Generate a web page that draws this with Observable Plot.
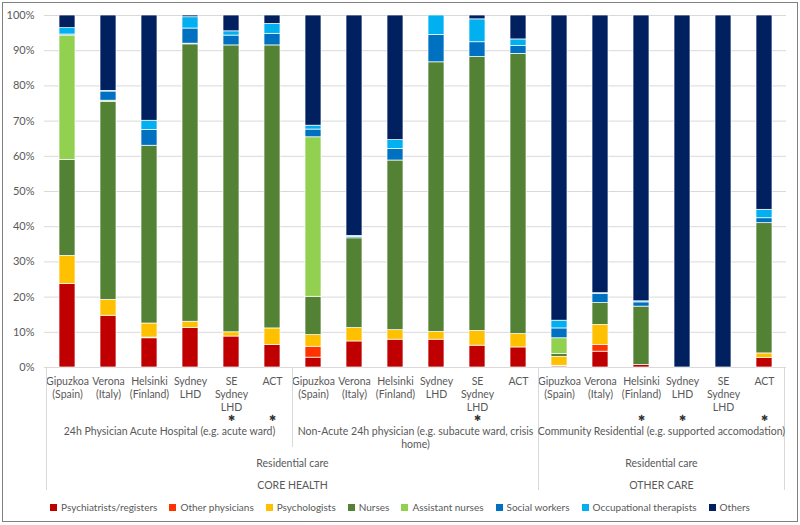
<!DOCTYPE html>
<html><head><meta charset="utf-8">
<script src="https://cdn.jsdelivr.net/npm/d3@7"></script>
<script src="https://cdn.jsdelivr.net/npm/@observablehq/plot@0.6"></script>
<style>
body{margin:0;background:#fff;font-family:Lato, sans-serif;}
#frame{position:absolute;left:2px;top:2px;width:794px;height:518px;border:1px solid #7f7f7f;pointer-events:none;}
#chart{position:absolute;left:0;top:0;}
#legend{position:absolute;left:0;top:500px;width:800px;display:flex;justify-content:center;gap:12px;font-size:10px;color:#595959;line-height:14px;}
#legend .it{display:flex;align-items:center;}
#legend .sw{width:7px;height:7px;margin-right:4px;}
</style></head>
<body>
<div id="chart"></div>
<div id="legend"></div>
<div id="frame"></div>
<script>
const barLabels = ["Gipuzkoa\n(Spain)","Verona\n(Italy)","Helsinki\n(Finland)","Sydney\nLHD","SE\nSydney\nLHD","ACT",
  "Gipuzkoa\n(Spain)","Verona\n(Italy)","Helsinki\n(Finland)","Sydney\nLHD","SE\nSydney\nLHD","ACT",
  "Gipuzkoa\n(Spain)","Verona\n(Italy)","Helsinki\n(Finland)","Sydney\nLHD","SE\nSydney\nLHD","ACT"];
const asteriskBars = [4, 5, 10, 14, 15, 17];
const groupLabels = ["24h Physician Acute Hospital (e.g. acute ward)", "Non-Acute 24h physician (e.g. subacute ward, crisis\nhome)", "Community Residential (e.g. supported accomodation)"];
const level2Labels = ["Residential care", "Residential care"];
const level3Labels = ["CORE HEALTH", "OTHER CARE"];
const roles = ["Psychiatrists/registers","Other physicians","Psychologists","Nurses","Assistant nurses","Social workers","Occupational therapists","Others"];
const colors = ["#C00000","#FF3300","#FFC000","#548235","#92D050","#0070C0","#00B0F0","#002060"];
const yTicks = [0,0.1,0.2,0.3,0.4,0.5,0.6,0.7,0.8,0.9,1];

const psychiatrists = [23.7,14.7,8.3,11.2,8.8,6.4, 2.8,7.4,7.9,7.9,6.2,5.7, 0.3,4.5,0.7,0,0,2.7];
const otherPhysicians = [0,0,0.2,0,0,0, 3.1,0,0,0,0,0, 0.2,1.9,0,0,0,0];
const psychologists = [8.0,4.5,4.0,1.8,1.2,4.7, 3.3,3.8,2.7,2.2,4.2,3.8, 2.5,5.7,0,0,0,1.3];
const nurses = [27.3,56.3,50.5,78.8,81.5,80.4, 10.9,25.5,48.2,76.6,77.8,79.6, 0.8,6.2,16.6,0,0,37.0];
const assistantNurses = [35.3,0.3,0,0.2,0,0, 45.3,0,0,0,0,0, 4.5,0,0,0,0,0];
const socialWorkers = [0.3,2.6,4.5,4.3,2.8,3.3, 2.2,0.4,3.3,7.8,4.2,2.2, 2.8,2.6,1.2,0,0,1.4];
const occupationalTherapists = [1.8,0.2,2.6,3.2,1.2,2.8, 1.1,0.3,2.5,5.5,6.5,1.9, 2.2,0.2,0.3,0,0,2.4];
const others = [3.6,21.4,29.9,0.5,4.5,2.4, 31.3,62.6,35.4,0,1.1,6.8, 86.7,78.9,81.2,100,100,55.2];

const series = [psychiatrists, otherPhysicians, psychologists, nurses, assistantNurses, socialWorkers, occupationalTherapists, others];
const data = [];
barLabels.forEach((_, i) => series.forEach((s, r) => { if (s[i] > 0) data.push({bar: i, role: roles[r], value: s[i]}); }));

const textColor = "#595959";
const fs = 10.5;
const plot = Plot.plot({
  width: 800, height: 495,
  marginTop: 15, marginBottom: 128, marginLeft: 44, marginRight: 14,
  style: {fontFamily: "Lato, sans-serif", fontSize: fs + "px", color: textColor, background: "transparent", overflow: "visible"},
  x: {domain: d3.range(barLabels.length), paddingInner: 0.61, paddingOuter: 0.305, axis: null, label: null},
  y: {domain: [0, 1], axis: null, label: null},
  color: {domain: roles, range: colors},
  marks: [
    Plot.gridY(yTicks, {stroke: "#d9d9d9", strokeOpacity: 1}),
    Plot.axisY(yTicks, {tickSize: 0, tickPadding: 10, tickFormat: d => Math.round(d * 100) + "%", fill: textColor, label: null, fontSize: 11}),
    Plot.barY(data, Plot.stackY({x: "bar", y: "value", fill: "role", offset: "normalize", stroke: "white", strokeWidth: 0.7})),
    Plot.axisX(d3.range(barLabels.length), {tickSize: 0, tickPadding: 8, tickFormat: i => barLabels[i], lineHeight: 13 / fs, fill: textColor, label: null}),
    Plot.text(asteriskBars, {x: d => d, frameAnchor: "bottom", dy: 53, text: () => "\u2731", fontSize: 8.5, fontFamily: "DejaVu Sans", fill: "#333"})
  ]
});
document.getElementById("chart").appendChild(plot);

// multi-level category axis, positioned with the plot's x scale
const xs = plot.scale("x");
const half = (xs.step - xs.bandwidth) / 2;
const b = i => i < barLabels.length ? xs.apply(i) - half : xs.apply(barLabels.length - 1) + xs.bandwidth + half;
const svg = d3.select(plot);
const yBase = 367;
const g = svg.append("g").attr("font-family", "Lato, sans-serif").attr("font-size", fs).attr("fill", textColor).attr("text-anchor", "middle");
[[0, 490], [6, 447], [12, 490], [18, 490]].forEach(([i, y2]) =>
  g.append("line").attr("x1", b(i)).attr("x2", b(i)).attr("y1", yBase).attr("y2", y2).attr("stroke", "#d9d9d9"));
groupLabels.forEach((t, k) => {
  const cx = (b(k * 6) + b(k * 6 + 6)) / 2;
  const tx = g.append("text").attr("x", cx).attr("y", 435);
  t.split("\n").forEach((line, j) => tx.append("tspan").attr("x", cx).attr("dy", j ? 13 : 0).text(line));
});
const spans = [[0, 12], [12, 18]];
spans.forEach(([a, z], k) => {
  const cx = (b(a) + b(z)) / 2;
  g.append("text").attr("x", cx).attr("y", 467).text(level2Labels[k]);
  g.append("text").attr("x", cx).attr("y", 489).text(level3Labels[k]);
});

// legend
const leg = d3.select("#legend");
roles.forEach((r, i) => {
  const it = leg.append("div").attr("class", "it");
  it.append("div").attr("class", "sw").style("background", colors[i]);
  it.append("span").text(r);
});
</script>
</body></html>
